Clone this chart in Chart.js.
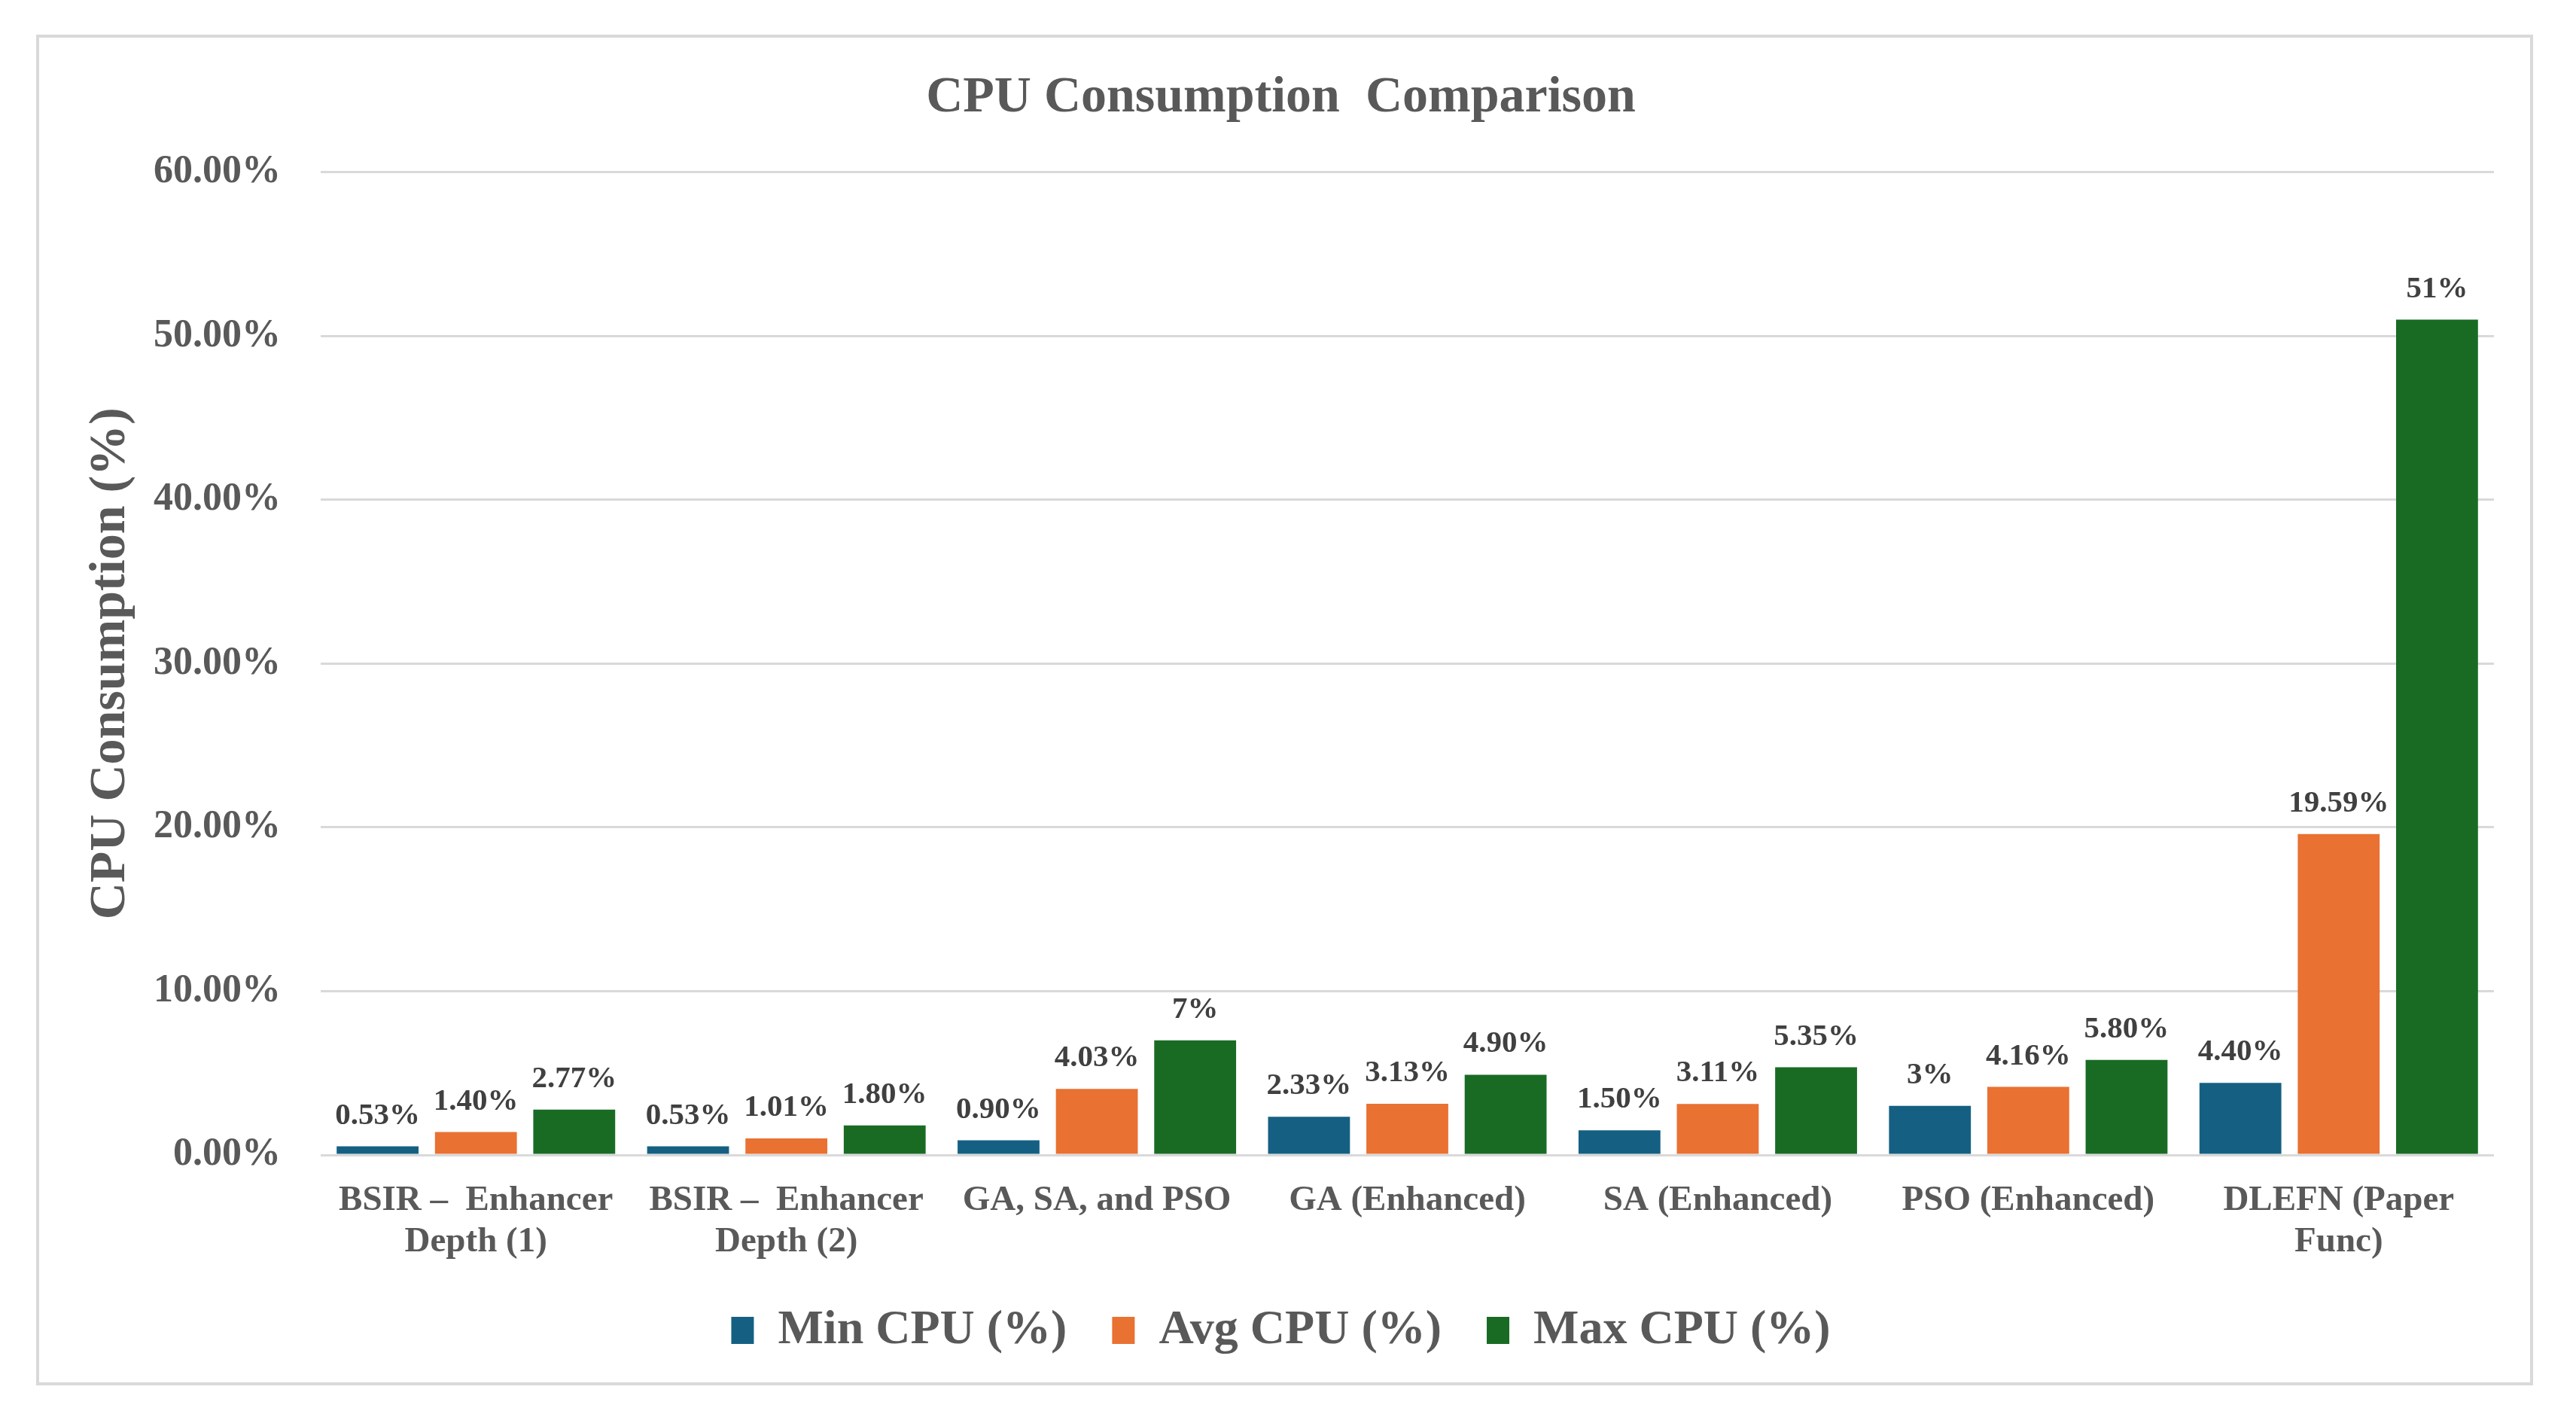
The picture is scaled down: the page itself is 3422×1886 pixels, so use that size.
<!DOCTYPE html>
<html>
<head>
<meta charset="utf-8">
<script src="https://cdn.jsdelivr.net/npm/chart.js@4/dist/chart.umd.min.js"></script>
<style>
  html, body { margin: 0; padding: 0; background: #fff; }
  canvas { display: block; }
</style>
</head>
<body>
<canvas id="chartjs" width="3422" height="1886"></canvas>
<script>
const categories = [
  ["BSIR \u2013  Enhancer", "Depth (1)"],
  ["BSIR \u2013  Enhancer", "Depth (2)"],
  "GA, SA, and PSO",
  "GA (Enhanced)",
  "SA (Enhanced)",
  "PSO (Enhanced)",
  ["DLEFN (Paper", "Func)"],
];
const seriesNames = ["Min CPU (%)", "Avg CPU (%)", "Max CPU (%)"];
const minCpu = [0.53, 0.53, 0.9, 2.33, 1.5, 3, 4.4];
const avgCpu = [1.4, 1.01, 4.03, 3.13, 3.11, 4.16, 19.59];
const maxCpu = [2.77, 1.8, 7, 4.9, 5.35, 5.8, 51];
const colors = ["#156082", "#E97132", "#196B24"];

const serif = "'Liberation Serif', 'Times New Roman', serif";
const textGray = "#595959";

function fmt(v) {
  return Number.isInteger(v) ? v + "%" : v.toFixed(2) + "%";
}

// frame round the whole chart
const framePlugin = {
  id: "frame",
  beforeDraw(chart) {
    const ctx = chart.ctx;
    ctx.save();
    ctx.fillStyle = "#fff";
    ctx.fillRect(0, 0, chart.width, chart.height);
    ctx.strokeStyle = "#D9D9D9";
    ctx.lineWidth = 4;
    ctx.strokeRect(50, 48, 3313, 1790);
    ctx.restore();
  },
};

// value labels above bars
const valueLabels = {
  id: "valueLabels",
  afterDatasetsDraw(chart) {
    const ctx = chart.ctx;
    ctx.save();
    ctx.font = "bold 41px " + serif;
    ctx.fillStyle = "#404040";
    ctx.textAlign = "center";
    ctx.textBaseline = "bottom";
    chart.data.datasets.forEach((ds, i) => {
      chart.getDatasetMeta(i).data.forEach((bar, j) => {
        ctx.fillText(fmt(ds.data[j]), bar.x, bar.y - 20);
      });
    });
    ctx.restore();
  },
};

new Chart("chartjs", {
  type: "bar",
  plugins: [framePlugin, valueLabels],
  data: {
    labels: categories,
    datasets: [minCpu, avgCpu, maxCpu].map((d, i) => ({
      label: seriesNames[i],
      data: d,
      backgroundColor: colors[i],
      borderWidth: 0,
      categoryPercentage: 0.95,
      barPercentage: 0.833,
    })),
  },
  options: {
    responsive: false,
    devicePixelRatio: 1,
    animation: false,
    layout: {
      padding: { left: 90, right: 109, top: 90, bottom: 77 },
    },
    scales: {
      x: {
        grid: { display: false, drawTicks: false },
        border: { display: false },
        ticks: {
          color: textGray,
          padding: 33,
          maxRotation: 0,
          autoSkip: false,
          font: { family: serif, size: 47, weight: "bold", lineHeight: 1.18 },
        },
        afterFit(scale) {
          scale.height = 141;
        },
      },
      y: {
        min: 0,
        max: 60,
        ticks: {
          stepSize: 10,
          color: textGray,
          padding: 53,
          font: { family: serif, size: 52, weight: "bold" },
          callback: (v) => v.toFixed(2) + "%",
        },
        grid: { color: "#D9D9D9", lineWidth: 3, drawTicks: false },
        border: { display: false },
        title: {
          display: true,
          text: "CPU Consumption (%)",
          color: textGray,
          padding: { top: 17, bottom: 0 },
          font: { family: serif, size: 68, weight: "bold" },
        },
        afterFit(scale) {
          scale.width = 336;
        },
      },
    },
    plugins: {
      title: {
        display: true,
        text: "CPU Consumption  Comparison",
        color: textGray,
        padding: { top: 0, bottom: 57 },
        font: { family: serif, size: 68, weight: "bold" },
      },
      legend: {
        position: "bottom",
        labels: {
          color: textGray,
          boxWidth: 30,
          boxHeight: 36,
          padding: 60,
          font: { family: serif, size: 64, weight: "bold" },
        },
      },
      tooltip: { enabled: false },
    },
  },
});
</script>
</body>
</html>
